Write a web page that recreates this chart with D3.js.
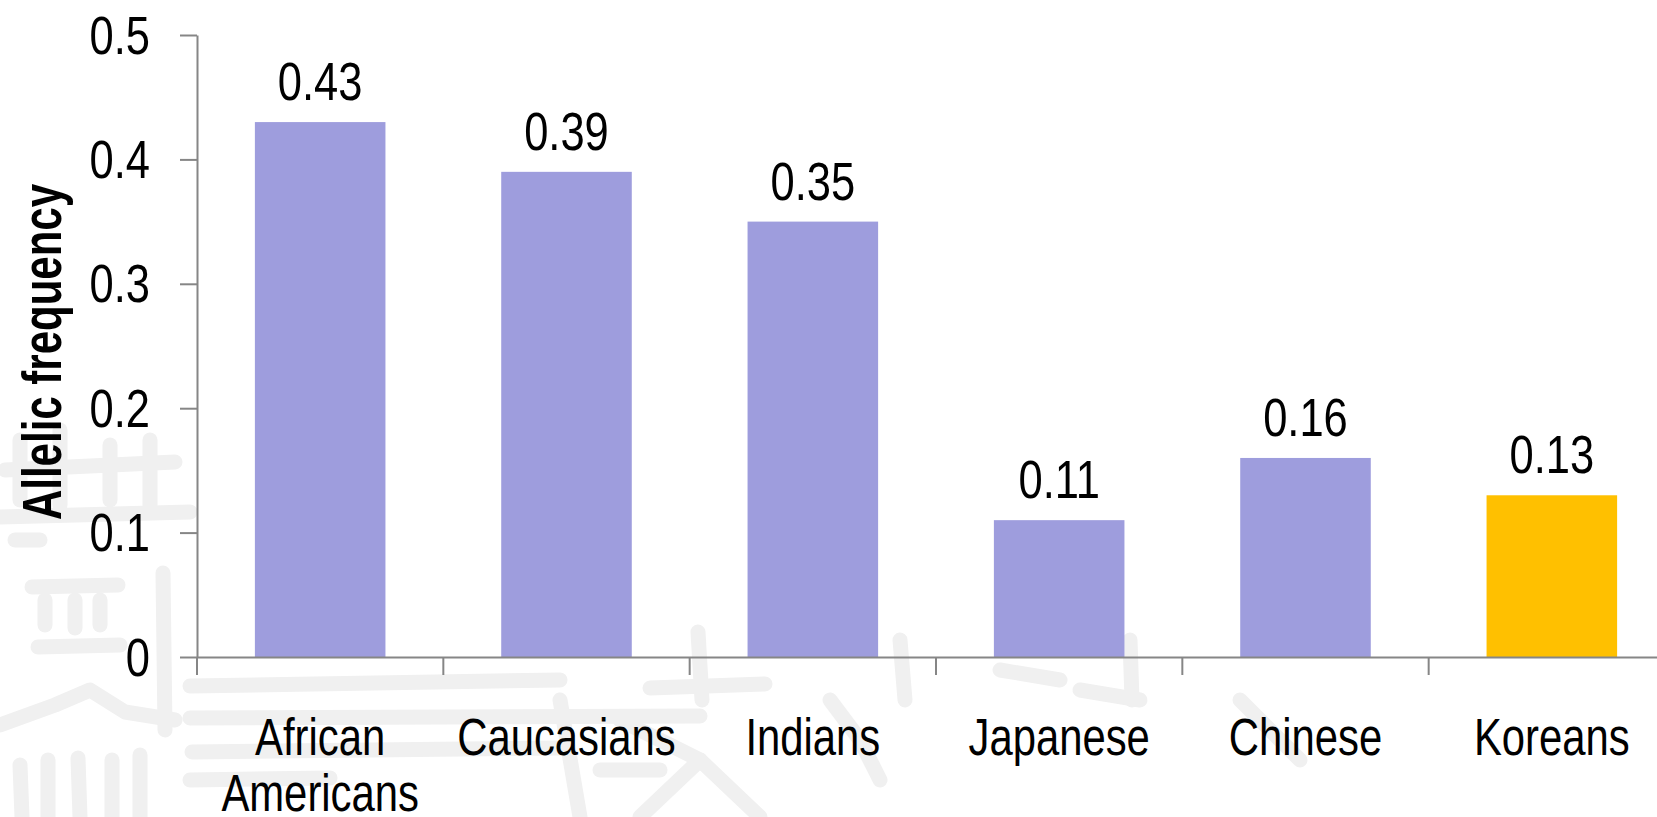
<!DOCTYPE html>
<html>
<head>
<meta charset="utf-8">
<script src="https://cdn.jsdelivr.net/npm/d3@7"></script>
<style>
  body { margin: 0; background: #fff; }
  text { font-family: "Liberation Sans", Arial, sans-serif; }
</style>
</head>
<body>
<svg id="chart" width="1657" height="817"></svg>
<script>
// data
const categories = ["African Americans", "Caucasians", "Indians", "Japanese", "Chinese", "Koreans"];
const labelLines = [["African", "Americans"], ["Caucasians"], ["Indians"], ["Japanese"], ["Chinese"], ["Koreans"]];
const values = [0.43, 0.39, 0.35, 0.11, 0.16, 0.13];
const highlighted = "Koreans";
const yTicks = [0, 0.1, 0.2, 0.3, 0.4, 0.5];
const yTitle = "Allelic frequency";

const purple = "#9e9ddd";
const yellow = "#ffc000";
const axisGray = "#868686";
const fontSize = 53;

const svg = d3.select("#chart");

// no Arial Narrow installed, so squeeze the glyphs instead
function narrow(selection, ratio = 0.82) {
  selection.each(function () {
    const w = this.getComputedTextLength();
    d3.select(this)
      .attr("textLength", w * ratio)
      .attr("lengthAdjust", "spacingAndGlyphs");
  });
}

// faint seal watermark in the background (decoration only)
const watermark = [
  "M5,470 L175,462", "M20,440 L20,500", "M60,430 L60,505", "M110,445 L110,500", "M150,440 L150,505",
  "M0,517 L190,512", "M15,540 L40,540",
  "M32,587 L118,585", "M45,600 L45,625", "M75,600 L75,628", "M100,600 L100,625", "M38,647 L120,645",
  "M163,573 L165,730", "M0,725 L55,705 L90,690 L125,712 L175,720",
  "M20,765 L22,817", "M48,760 L48,817", "M78,758 L80,817", "M112,760 L112,817", "M140,755 L140,817",
  "M190,686 L560,680", "M190,718 L700,716", "M192,752 L560,748", "M190,780 L330,778", "M600,770 L660,770",
  "M698,632 L702,700", "M650,688 L765,684", "M620,720 L700,760 L760,817", "M700,760 L640,817",
  "M560,700 L580,817", "M830,700 L860,740 L880,780", "M900,640 L905,700", "M1000,670 L1060,680",
  "M1080,690 L1140,700", "M1130,640 L1132,700", "M1240,700 L1300,760"
];
svg.append("g")
  .attr("class", "watermark")
  .selectAll("path")
  .data(watermark)
  .join("path")
  .attr("d", (d) => d)
  .attr("fill", "none")
  .attr("stroke", "#f0f0f0")
  .attr("stroke-width", 15)
  .attr("stroke-linecap", "round")
  .attr("stroke-linejoin", "round");

const x = d3.scaleBand().domain(categories).range([197, 1675]).padding(0);
const y = d3.scaleLinear().domain([0, 0.5]).range([657, 35]);
const barWidth = x.bandwidth() * 0.53;

// bars
svg.append("g")
  .selectAll("rect")
  .data(categories)
  .join("rect")
  .attr("x", (d) => x(d) + (x.bandwidth() - barWidth) / 2)
  .attr("y", (d, i) => y(values[i]))
  .attr("width", barWidth)
  .attr("height", (d, i) => y(0) - y(values[i]))
  .attr("fill", (d) => (d === highlighted ? yellow : purple));

// value labels
svg.append("g")
  .selectAll("text")
  .data(categories)
  .join("text")
  .attr("x", (d) => x(d) + x.bandwidth() / 2)
  .attr("y", (d, i) => y(values[i]) - 22)
  .attr("text-anchor", "middle")
  .style("font-size", fontSize + "px")
  .attr("fill", "#000")
  .text((d, i) => d3.format(".2f")(values[i]))
  .call(narrow);

// y axis
const yAxis = svg.append("g")
  .attr("transform", `translate(${x.range()[0]},0)`)
  .call(
    d3.axisLeft(y)
      .tickValues(yTicks)
      .tickSize(17)
      .tickSizeOuter(0)
      .tickPadding(30)
      .tickFormat((d) => (d === 0 ? "0" : d3.format(".1f")(d)))
  );
yAxis.attr("font-family", null).attr("font-size", null);
yAxis.select(".domain").attr("stroke", axisGray).attr("stroke-width", 2);
yAxis.selectAll(".tick line").attr("stroke", axisGray).attr("stroke-width", 2);
yAxis.selectAll(".tick text")
  .attr("fill", "#000")
  .attr("dy", "0.34em")
  .style("font-size", fontSize + "px")
  .call(narrow);

// x axis: line plus ticks on band boundaries
const xAxis = svg.append("g")
  .attr("transform", `translate(0,${y(0)})`)
  .call(d3.axisBottom(x).tickSize(0).tickSizeOuter(0).tickFormat(""));
xAxis.select(".domain").attr("stroke", axisGray).attr("stroke-width", 2);

xAxis.selectAll("line.boundary")
  .data(categories)
  .join("line")
  .attr("class", "boundary")
  .attr("x1", (d) => x(d))
  .attr("x2", (d) => x(d))
  .attr("y1", 0)
  .attr("y2", 18)
  .attr("stroke", axisGray)
  .attr("stroke-width", 2);

// category labels, one text per line so each can be squeezed
svg.append("g")
  .selectAll("g")
  .data(categories)
  .join("g")
  .each(function (d, i) {
    d3.select(this)
      .selectAll("text")
      .data(labelLines[i])
      .join("text")
      .attr("x", x(d) + x.bandwidth() / 2)
      .attr("y", (line, j) => y(0) + 98 + j * 56)
      .attr("text-anchor", "middle")
      .style("font-size", "51px")
      .attr("fill", "#000")
      .text((line) => line)
      .call(narrow);
  });

// y axis title
svg.append("text")
  .attr("transform", `translate(61,${(y(0) + y(0.5)) / 2 + 6}) rotate(-90)`)
  .attr("text-anchor", "middle")
  .style("font-size", "56px")
  .style("font-weight", "bold")
  .attr("fill", "#000")
  .text(yTitle)
  .call(narrow, 0.75);
</script>
</body>
</html>
